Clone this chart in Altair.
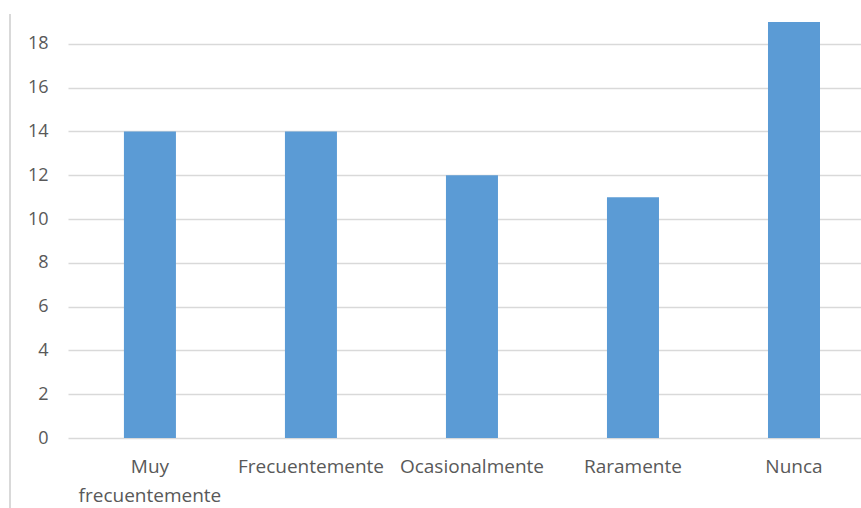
import altair as alt
import pandas as pd

categories = ["Muy frecuentemente", "Frecuentemente", "Ocasionalmente", "Raramente", "Nunca"]
values = [14, 14, 12, 11, 19]
y_ticks = [0, 2, 4, 6, 8, 10, 12, 14, 16, 18]

df = pd.DataFrame({"cat": categories, "val": values})

FONT = "Open Sans"
LABEL_COLOR = "#595959"

bars = alt.Chart(df).mark_bar(color="#5B9BD5").encode(
    x=alt.X(
        "cat:N",
        sort=categories,
        title=None,
        scale=alt.Scale(paddingInner=0.677, paddingOuter=0.301, align=0.577),
        axis=alt.Axis(
            labelAngle=0,
            domain=False,
            ticks=False,
            labelPadding=19,
            labelFont=FONT,
            labelFontSize=19,
            labelColor=LABEL_COLOR,
            labelLineHeight=29,
            labelExpr="datum.label == 'Muy frecuentemente' ? ['Muy', 'frecuentemente'] : datum.label",
        ),
    ),
    y=alt.Y(
        "val:Q",
        title=None,
        scale=alt.Scale(domain=[0, 19], nice=False),
        axis=alt.Axis(
            values=y_ticks,
            domain=False,
            ticks=False,
            labelPadding=20,
            labelFont=FONT,
            labelFontSize=18,
            labelColor=LABEL_COLOR,
            gridColor="#D9D9D9",
            gridWidth=1.5,
        ),
    ),
)

# left frame border of the original chart object
frame = alt.Chart(pd.DataFrame({"a": [0]})).mark_rule(
    color="#D9D9D9", strokeWidth=2, clip=False
).encode(x=alt.value(-58), y=alt.value(-8), y2=alt.value(490))

chart = alt.layer(bars, frame).properties(
    width=793,
    height=416,
    padding={"left": 68, "top": 22, "right": 0, "bottom": 70},
    autosize="none",
).configure_view(stroke=None)

chart.save("out.html", embed_options={"renderer": "svg", "actions": False})
